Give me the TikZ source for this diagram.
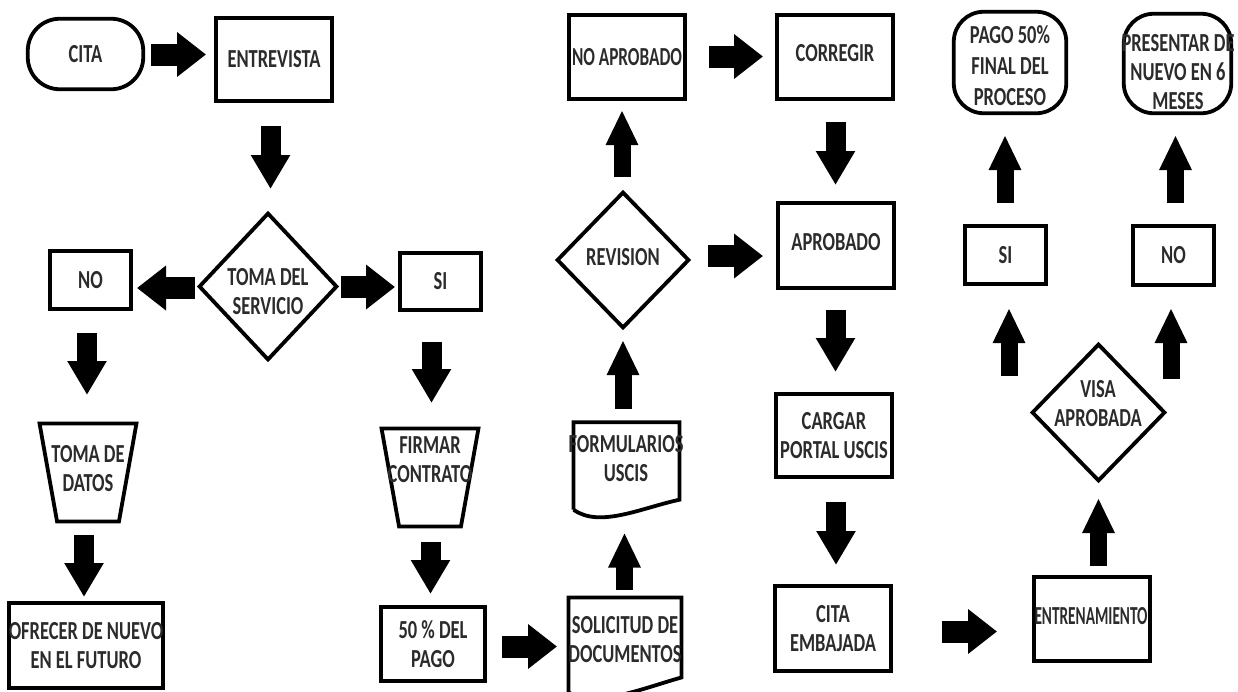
\documentclass[tikz,border=0pt]{standalone}
\usepackage{fontspec}
\usepackage{graphicx}
\newfontfamily\dfont{Carlito}[FakeStretch=0.71]
\usetikzlibrary{shapes.geometric,arrows.meta,calc}
\definecolor{txt}{HTML}{2B2B2B}
\begin{document}
\begin{tikzpicture}[x=1pt,y=-1pt,
  tfont/.style={font=\dfont\bfseries\fontsize{26}{29}\selectfont, text=txt, align=center},
  base/.style={draw=black, line width=3.8pt, inner sep=0pt, tfont},
  box/.style={base, rectangle},
  term/.style={base, rectangle, rounded corners=#1},
  dia/.style={base, diamond},
  frame/.style={draw=none, inner sep=0pt, rectangle},
  lbl/.style={inner sep=0pt, tfont},
  outl/.style={draw=black, line width=3.8pt, line join=miter},
  rarr/.style={line width=22pt, -{Triangle[length=29pt,width=43pt]}},
  darr/.style={line width=20pt, -{Triangle[length=34pt,width=37pt]}},
  uarr/.style={line width=17pt, -{Triangle[length=35pt,width=30pt]}}
]
\useasboundingbox (0,0) rectangle (1238,691);
\fill[white] (0,0) rectangle (1238,691);

% left part
\node[term=32pt, minimum width=115.5pt, minimum height=70.5pt] (cita) at (85.5,54) {CITA};
\node[box, minimum width=116.5pt, minimum height=83.5pt] (entre) at (274,59.5) {ENTREVISTA};
\node[dia, minimum width=138.5pt, minimum height=147.5pt] (svc) at (268,286.5) {};
\node[lbl] (svct) at (268,292) {TOMA DEL\\SERVICIO};
\node[box, minimum width=81.5pt, minimum height=58.5pt] (no1) at (90.5,280) {NO};
\node[box, minimum width=81.5pt, minimum height=57.5pt] (si1) at (440.5,281.5) {SI};
\node[frame, minimum width=96.5pt, minimum height=97.5pt] (datos) at (88,472.5) {};
\draw[outl] (datos.north west) -- (datos.north east) -- ($(datos.south east)+(-17.5,0)$) -- ($(datos.south west)+(17.5,0)$) -- cycle;
\node[lbl] (datost) at (88,469) {TOMA DE\\DATOS};
\node[frame, minimum width=96.5pt, minimum height=97.5pt] (firmar) at (430,477.5) {};
\draw[outl] (firmar.north west) -- (firmar.north east) -- ($(firmar.south east)+(-17.5,0)$) -- ($(firmar.south west)+(17.5,0)$) -- cycle;
\node[lbl] (firmart) at (430,460) {FIRMAR\\CONTRATO};
\node[box, minimum width=146.5pt, minimum height=85.5pt] (ofrecer) at (86,645.5) {OFRECER DE NUEVO\\EN EL FUTURO};
\node[box, minimum width=104.5pt, minimum height=74.5pt] (pago1) at (433,644) {50 \% DEL\\PAGO};

% middle
\node[frame, minimum width=112.5pt, minimum height=102.5pt] (solic) at (625,649) {};
\draw[outl] ($(solic.south west)+(0,-8)$) -- (solic.north west) -- (solic.north east) -- ($(solic.south east)+(0,-23)$)
  .. controls ($(solic.south east)+(-39,-12)$) and ($(solic.south west)+(26,8)$) .. ($(solic.south west)+(0,-8)$);
\node[lbl] (solict) at (625,640) {SOLICITUD DE\\DOCUMENTOS};
\node[frame, minimum width=105.5pt, minimum height=97pt] (form) at (626.5,471) {};
\draw[outl] ($(form.south west)+(0,-10)$) -- (form.north west) -- (form.north east) -- ($(form.south east)+(0,-20)$)
  .. controls ($(form.south east)+(-39,-11.5)$) and ($(form.south west)+(26,8.5)$) .. ($(form.south west)+(0,-10)$);
\node[lbl] (formt) at (626,459) {FORMULARIOS\\USCIS};
\node[dia, minimum width=132.5pt, minimum height=136.5pt] (rev) at (623,260) {};
\node[lbl] (revt) at (623,257) {REVISION};
\node[box, minimum width=116.5pt, minimum height=84.5pt] (noap) at (627,57) {\resizebox{110pt}{\height}{NO APROBADO}};
\node[box, minimum width=116.5pt, minimum height=84.5pt] (corr) at (835,57) {};
\node[lbl] (corrt) at (835,53) {CORREGIR};
\node[box, minimum width=116.5pt, minimum height=85.5pt] (aprob) at (836,245.5) {};
\node[lbl] (aprobt) at (836,242) {APROBADO};
\node[box, minimum width=116.5pt, minimum height=83.5pt] (cargar) at (834,435.5) {CARGAR\\PORTAL USCIS};
\node[box, minimum width=116.5pt, minimum height=85.5pt] (citaemb) at (833,628.5) {CITA\\EMBAJADA};

% right part
\node[box, minimum width=116.5pt, minimum height=84.5pt] (entren) at (1092,619) {};
\node[lbl] (entrent) at (1091,616) {\resizebox{113pt}{\height}{ENTRENAMIENTO}};
\node[dia, minimum width=133.5pt, minimum height=137.5pt] (visa) at (1098.5,412.5) {};
\node[lbl] (visat) at (1098,404) {VISA\\APROBADA};
\node[box, minimum width=81.5pt, minimum height=58.5pt] (si2) at (1005.5,255) {SI};
\node[box, minimum width=81.5pt, minimum height=59.5pt] (no2) at (1173.5,255.5) {NO};
\node[term=30pt, minimum width=112.5pt, minimum height=101.5pt] (pago2) at (1010,62.5) {};
\node[lbl, font=\dfont\bfseries\fontsize{26}{31}\selectfont] (pago2t) at (1010,66) {PAGO 50\%\\FINAL DEL\\PROCESO};
\node[term=30pt, minimum width=107.5pt, minimum height=99.5pt] (pres) at (1177.5,63.5) {};
\node[lbl] (prest) at (1178,72) {PRESENTAR DE\\NUEVO EN 6\\MESES};

% arrows
\draw[rarr] ($(cita)+(65.5,0.5)$) -- ($(cita -| entre)+(-68,0.5)$);
\draw[darr] ($(entre -| svc)+(2.5,66.5)$) -- ($(svc)+(2.5,-97.5)$);
\draw[rarr] ($(svc)+(-73,1.5)$) -- ($(svc -| no1)+(46.5,1.5)$);
\draw[rarr] ($(svc)+(73,0.5)$) -- ($(svc -| si1)+(-45.5,0.5)$);
\draw[darr] ($(no1)+(-3.5,53)$) -- ($(datos)+(-1,-77.5)$);
\draw[darr] ($(si1)+(-9,60.5)$) -- ($(firmar)+(1.5,-74.5)$);
\draw[darr] ($(datos)+(-4,62.5)$) -- ($(ofrecer)+(-2,-48.5)$);
\draw[darr] ($(firmar)+(0.5,64.5)$) -- ($(pago1)+(-2.5,-50)$);
\draw[rarr] ($(pago1)+(69,2.5)$) -- ($(pago1 -| solic)+(-68,2.5)$);
\draw[uarr] ($(solic)+(-0.5,-59)$) -- ($(form)+(-2,61.5)$);
\draw[uarr] ($(form)+(-3.5,-62.5)$) -- ($(rev)+(0,80)$);
\draw[uarr] ($(rev)+(-1,-83)$) -- ($(noap)+(-5,53)$);
\draw[rarr] ($(noap)+(82,-0.5)$) -- ($(noap -| corr)+(-72,-0.5)$);
\draw[darr] ($(corr)+(0.5,65)$) -- ($(aprob)+(-0.5,-60.5)$);
\draw[rarr] ($(rev)+(85,-4)$) -- ($(rev -| aprob)+(-73,-4)$);
\draw[darr] ($(aprob)+(-0.5,64.5)$) -- ($(cargar)+(1.5,-63.5)$);
\draw[darr] ($(cargar)+(2,66.5)$) -- ($(citaemb)+(3,-63.5)$);
\draw[rarr] ($(citaemb)+(109,3)$) -- ($(citaemb -| entren)+(-95,3)$);
\draw[uarr] ($(entren)+(6.5,-53)$) -- ($(visa)+(0,85.5)$);
\draw[uarr] ($(visa -| si2)+(3.5,-36.5)$) -- ($(si2)+(3.5,53)$);
\draw[uarr] ($(visa -| no2)+(-2.5,-33.5)$) -- ($(no2)+(-2.5,52.5)$);
\draw[uarr] ($(si2)+(-0.5,-52)$) -- ($(pago2)+(-5,72.5)$);
\draw[uarr] ($(no2)+(2,-52.5)$) -- ($(pres)+(-2,71.5)$);
\end{tikzpicture}
\end{document}
